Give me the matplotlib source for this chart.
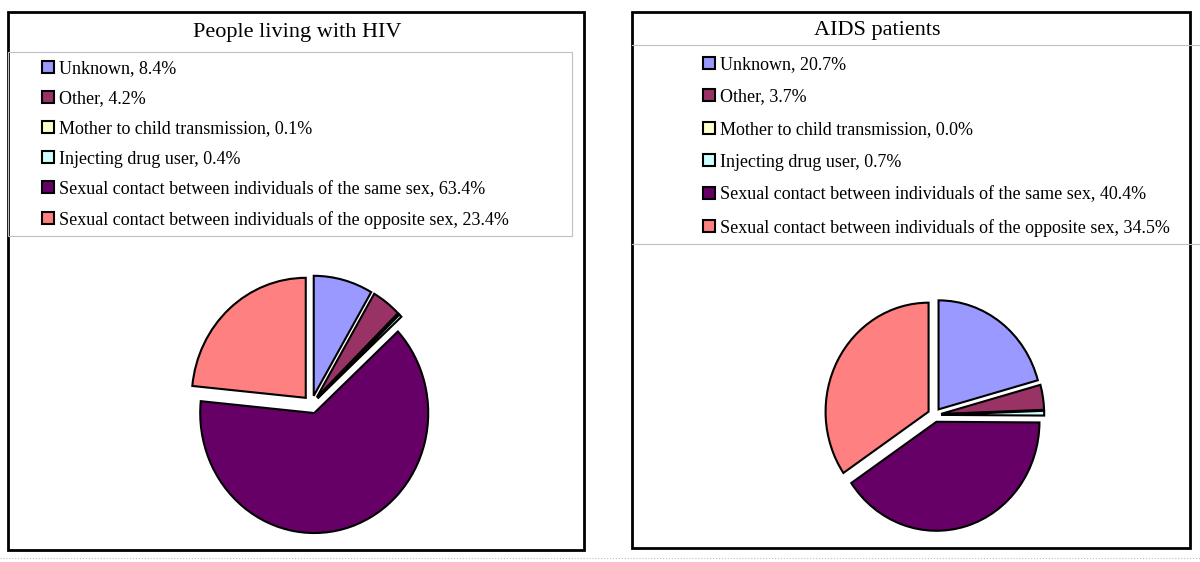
import matplotlib
matplotlib.use("Agg")
import matplotlib.pyplot as plt
from matplotlib.patches import Rectangle
from matplotlib.lines import Line2D

# data
categories = ["Unknown", "Other", "Mother to child transmission", "Injecting drug user",
              "Sexual contact between individuals of the same sex",
              "Sexual contact between individuals of the opposite sex"]
hiv_values = [8.4, 4.2, 0.1, 0.4, 63.4, 23.4]
aids_values = [20.7, 3.7, 0.0, 0.7, 40.4, 34.5]
titles = ["People living with HIV", "AIDS patients"]
colors = ["#9999FF", "#993366", "#FFFFCC", "#CCFFFF", "#660066", "#FF8080"]

W, H = 1200, 562
plt.rcParams['font.family'] = ['Liberation Serif', 'DejaVu Serif']
fig = plt.figure(figsize=(W / 100, H / 100), dpi=100)


def px_rect(x0, y0, x1, y1, **kw):
    # rectangle given in pixel coords (y from top)
    r = Rectangle((x0 / W, 1 - y1 / H), (x1 - x0) / W, (y1 - y0) / H,
                  transform=fig.transFigure, fill=False, **kw)
    fig.patches.append(r)


def px_hline(x0, x1, y, **kw):
    fig.lines.append(Line2D([x0 / W, x1 / W], [1 - y / H, 1 - y / H],
                            transform=fig.transFigure, **kw))


def draw_pie(values, cx, cy, rx, ry, explode):
    lim = 1.35
    w, h = 2 * lim * rx, 2 * lim * ry
    ax = fig.add_axes([(cx - w / 2) / W, 1 - (cy + h / 2) / H, w / W, h / H])
    wedges, _ = ax.pie(values, colors=colors, startangle=90, counterclock=False,
                       explode=[explode] * len(values),
                       wedgeprops=dict(edgecolor="black", linewidth=1.5))
    ax.set_xlim(-lim, lim)
    ax.set_ylim(-lim, lim)
    ax.set_aspect("auto")
    ax.axis("off")
    return wedges


def add_legend(wedges, values, x, y, spacing):
    labels = [f"{c}, {v:.1f}%" for c, v in zip(categories, values)]
    fig.legend(wedges, labels, loc="upper left", bbox_to_anchor=(x / W, 1 - y / H),
               frameon=False, fontsize=13, handlelength=0.65, handleheight=0.65,
               handletextpad=0.3, labelspacing=spacing, borderpad=0, borderaxespad=0)


# left panel
px_rect(8, 12, 584, 550, edgecolor="black", linewidth=2)
px_rect(8, 52, 572, 236, edgecolor="#c0c0c0", linewidth=0.8)
fig.text(297 / W, 1 - 32 / H, titles[0], ha="center", va="center", fontsize=16)
w1 = draw_pie(hiv_values, 311.5, 404.5, 114, 120, 0.075)
add_legend(w1, hiv_values, 42, 60, 0.73)

# right panel
px_rect(632, 12, 1190, 548, edgecolor="black", linewidth=2)
px_hline(632, 1200, 45, color="#c0c0c0", linewidth=0.8)
px_hline(632, 1200, 244, color="#c0c0c0", linewidth=0.8)
fig.text(877 / W, 1 - 30 / H, titles[1], ha="center", va="center", fontsize=16)
w2 = draw_pie(aids_values, 934.5, 415, 103, 109, 0.065)
add_legend(w2, aids_values, 703, 56, 0.86)

# faint dotted line along the bottom
px_hline(0, 1200, 558, color="#bbbbbb", linewidth=0.8, linestyle=":")

fig.savefig("out.png", dpi=100)
